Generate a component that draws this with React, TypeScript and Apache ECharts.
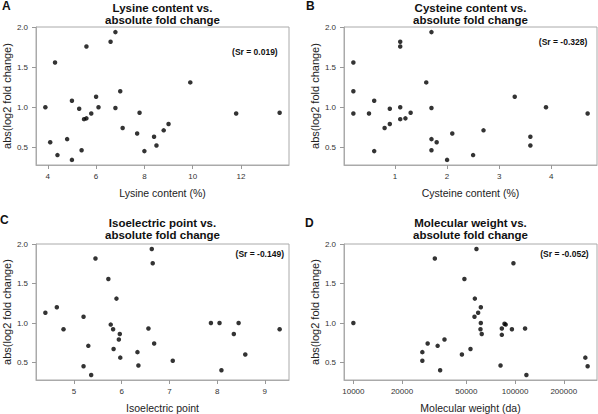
import React, { useEffect, useRef } from "react";
import * as echarts from "echarts";

// ---- Data ----
const lysine = [3.9, 4.1, 4.3, 4.4, 4.8, 5.0, 5.0, 5.3, 5.4, 5.5, 5.6, 5.6, 5.8, 6.0, 6.1, 6.6, 6.8, 6.8, 7.0, 7.1, 7.7, 7.8, 8.0, 8.4, 8.5, 8.8, 9.0, 9.9, 11.8, 13.6];
const lysineFold = [1.0, 0.56, 1.56, 0.4, 0.6, 1.08, 0.34, 0.98, 0.46, 0.85, 0.86, 1.76, 0.92, 1.13, 1.0, 1.82, 1.94, 0.99, 1.2, 0.74, 0.67, 0.93, 0.45, 0.63, 0.52, 0.71, 0.79, 1.31, 0.92, 0.93];

const cysteine = [0.2, 0.2, 0.2, 0.5, 0.6, 0.6, 0.8, 0.9, 0.9, 1.1, 1.1, 1.1, 1.1, 1.2, 1.3, 1.6, 1.7, 1.7, 1.7, 1.7, 1.8, 2.0, 2.1, 2.5, 2.7, 3.3, 3.6, 3.6, 3.9, 4.7];
const cysteineFold = [1.56, 1.2, 0.92, 0.92, 1.08, 0.45, 0.74, 0.98, 0.79, 1.82, 1.76, 1.0, 0.85, 0.86, 0.93, 1.31, 1.94, 0.99, 0.6, 0.46, 0.56, 0.34, 0.67, 0.4, 0.71, 1.13, 0.63, 0.52, 1.0, 0.92];

const isoelectric = [4.4, 4.64, 4.78, 5.2, 5.2, 5.3, 5.36, 5.45, 5.72, 5.77, 5.82, 5.83, 5.89, 5.94, 5.96, 5.97, 6.33, 6.35, 6.56, 6.63, 6.65, 6.68, 7.07, 7.87, 8.05, 8.09, 8.35, 8.45, 8.59, 9.31];
const isoelectricFold = [1.13, 1.2, 0.92, 1.08, 0.45, 0.71, 0.34, 1.82, 1.56, 0.98, 0.92, 0.67, 1.31, 0.79, 0.86, 0.56, 0.63, 0.46, 0.93, 1.94, 1.76, 0.74, 0.52, 1.0, 1.0, 0.4, 0.86, 1.0, 0.6, 0.92];

const molWeight = [10000, 31900, 57700, 48600, 56400, 61400, 59100, 56100, 61400, 61100, 62200, 36600, 28800, 33200, 53000, 26700, 46900, 26700, 34400, 82800, 86000, 87500, 82800, 95600, 115300, 81300, 117500, 272000, 281000, 97700];
const molWeightFold = [1.0, 1.82, 1.94, 1.56, 1.31, 1.2, 1.13, 1.08, 1.0, 0.92, 0.86, 0.79, 0.74, 0.71, 0.67, 0.63, 0.6, 0.52, 0.4, 0.93, 0.99, 0.98, 0.85, 0.92, 0.93, 0.46, 0.34, 0.56, 0.45, 1.76];

const foldTicks = [0.5, 1.0, 1.5, 2.0];
const lysineTicks = [4, 6, 8, 10, 12];
const cysteineTicks = [1, 2, 3, 4];
const isoelectricTicks = [5, 6, 7, 8, 9];
const molWeightTicks = [10000, 20000, 50000, 100000, 200000];

const titles = [
  ["Lysine content vs.", "absolute fold change"],
  ["Cysteine content vs.", "absolute fold change"],
  ["Isoelectric point vs.", "absolute fold change"],
  ["Molecular weight vs.", "absolute fold change"],
];
const xNames = ["Lysine content (%)", "Cysteine content (%)", "Isoelectric point", "Molecular weight (da)"];
const letters = ["A", "B", "C", "D"];
const srLabels = ["(Sr = 0.019)", "(Sr = -0.328)", "(Sr = -0.149)", "(Sr = -0.052)"];
const yName = "abs(log2 fold change)";

// R-style 4% range extension
function rRange(arr: number[], log = false): [number, number] {
  const v = log ? arr.map((a) => Math.log10(a)) : arr;
  const lo = Math.min(...v);
  const hi = Math.max(...v);
  const d = (hi - lo) * 0.04;
  return log ? [Math.pow(10, lo - d), Math.pow(10, hi + d)] : [lo - d, hi + d];
}

const FONT = '"Liberation Sans", Arial, Helvetica, sans-serif';

function buildOption() {
  const panels = [
    { x: lysine, y: lysineFold, ticks: lysineTicks, log: false },
    { x: cysteine, y: cysteineFold, ticks: cysteineTicks, log: false },
    { x: isoelectric, y: isoelectricFold, ticks: isoelectricTicks, log: false },
    { x: molWeight, y: molWeightFold, ticks: molWeightTicks, log: true },
  ];
  const lefts = [36, 344, 36, 344];
  const tops = [27, 27, 244, 244];
  const W = 253;
  const H = 138;
  const allFold = [...lysineFold, ...cysteineFold, ...isoelectricFold, ...molWeightFold];
  const yr = rRange(allFold);

  const grid: any[] = [];
  const xAxis: any[] = [];
  const yAxis: any[] = [];
  const series: any[] = [];
  const graphic: any[] = [];

  const titleY = [
    [7.5, 19.5],
    [7.5, 19.5],
    [222.5, 235],
    [222.5, 235],
  ];
  const letterPos = [
    [2, 6],
    [306, 6],
    [0, 220],
    [305, 223],
  ];
  const srPos = [
    [277.7, 51.5],
    [587.3, 41.5],
    [284, 253.7],
    [588.7, 253.7],
  ];

  panels.forEach((p, i) => {
    grid.push({
      left: lefts[i],
      top: tops[i],
      width: W,
      height: H,
      show: true,
      borderColor: "#aaa",
      borderWidth: 1,
      backgroundColor: "transparent",
      containLabel: false,
    });
    const xr = rRange(p.x, p.log);
    xAxis.push({
      type: p.log ? "log" : "value",
      logBase: 10,
      gridIndex: i,
      min: xr[0],
      max: xr[1],
      name: xNames[i],
      nameLocation: "middle",
      nameGap: 22,
      nameTextStyle: { fontFamily: FONT, fontSize: 10.5, color: "#222" },
      axisLine: { show: true, lineStyle: { color: "#aaa", width: 1 } },
      splitLine: { show: false },
      axisTick: { show: true, length: 4, lineStyle: { color: "#999" }, customValues: p.ticks },
      axisLabel: {
        customValues: p.ticks,
        fontFamily: FONT,
        fontSize: 8,
        color: "#333",
        margin: 7,
        formatter: (v: number) => String(v),
      },
    });
    yAxis.push({
      type: "value",
      gridIndex: i,
      min: yr[0],
      max: yr[1],
      name: yName,
      nameLocation: "middle",
      nameGap: 24,
      nameRotate: 90,
      nameTextStyle: { fontFamily: FONT, fontSize: 11, color: "#222" },
      axisLine: { show: true, lineStyle: { color: "#aaa", width: 1 } },
      splitLine: { show: false },
      axisTick: { show: true, length: 4, lineStyle: { color: "#999" }, customValues: foldTicks },
      axisLabel: {
        customValues: foldTicks,
        fontFamily: FONT,
        fontSize: 8,
        color: "#333",
        margin: 8,
        formatter: (v: number) => v.toFixed(1),
      },
    });
    series.push({
      type: "scatter",
      xAxisIndex: i,
      yAxisIndex: i,
      symbol: "circle",
      symbolSize: 4.5,
      itemStyle: { color: "#000" },
      data: p.x.map((v, k) => [v, p.y[k]]),
    });

    const cx = lefts[i] + W / 2;
    titles[i].forEach((line, li) => {
      graphic.push({
        type: "text",
        x: cx,
        y: titleY[i][li],
        style: {
          text: line,
          fontFamily: FONT,
          fontSize: 11.5,
          fontWeight: "bold",
          fill: "#111",
          align: "center",
          verticalAlign: "middle",
          textAlign: "center",
          textVerticalAlign: "middle",
        },
      });
    });
    graphic.push({
      type: "text",
      x: letterPos[i][0],
      y: letterPos[i][1],
      style: {
        text: letters[i],
        fontFamily: FONT,
        fontSize: 12,
        fontWeight: "bold",
        fill: "#111",
        align: "left",
        verticalAlign: "middle",
        textAlign: "left",
        textVerticalAlign: "middle",
      },
    });
    graphic.push({
      type: "text",
      x: srPos[i][0],
      y: srPos[i][1],
      style: {
        text: srLabels[i],
        fontFamily: FONT,
        fontSize: 8.5,
        fontWeight: "bold",
        fill: "#111",
        align: "right",
        verticalAlign: "middle",
        textAlign: "right",
        textVerticalAlign: "middle",
      },
    });
  });

  return {
    animation: false,
    backgroundColor: "#fff",
    textStyle: { fontFamily: FONT },
    grid,
    xAxis,
    yAxis,
    series,
    graphic,
  };
}

export default function App() {
  const ref = useRef<HTMLDivElement>(null);
  useEffect(() => {
    if (!ref.current) return;
    const chart = echarts.init(ref.current, null, { renderer: "svg" });
    chart.setOption(buildOption() as any);
    return () => chart.dispose();
  }, []);
  return (
    <div
      ref={ref}
      style={{ position: "absolute", left: 0, top: 0, width: 598, height: 414, background: "#fff" }}
    />
  );
}
